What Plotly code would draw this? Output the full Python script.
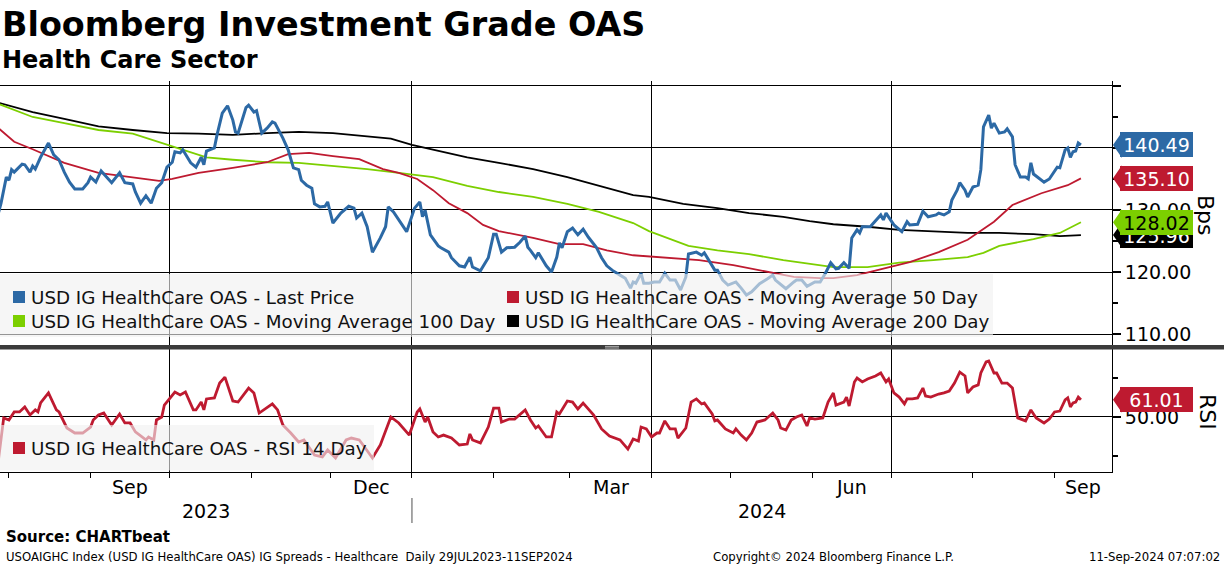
import plotly.graph_objects as go
import pandas as pd

FONT = "DejaVu Sans"

# ---------------- data ----------------
lp_dates = ["2023-07-28","2023-07-29","2023-07-31","2023-08-01","2023-08-02","2023-08-03","2023-08-06","2023-08-07","2023-08-09","2023-08-10",
"2023-08-11","2023-08-13","2023-08-16","2023-08-18","2023-08-20","2023-08-22","2023-08-24","2023-08-26","2023-08-29","2023-08-31",
"2023-09-01","2023-09-03","2023-09-05","2023-09-09","2023-09-12","2023-09-14","2023-09-17","2023-09-18","2023-09-20","2023-09-22",
"2023-09-24","2023-09-26","2023-09-28","2023-09-30","2023-10-02","2023-10-03","2023-10-05","2023-10-06","2023-10-09","2023-10-11",
"2023-10-13","2023-10-14","2023-10-15","2023-10-18","2023-10-19","2023-10-21","2023-10-23","2023-10-25","2023-10-26","2023-10-27",
"2023-10-30","2023-10-31","2023-11-02","2023-11-03","2023-11-05","2023-11-07","2023-11-09","2023-11-10","2023-11-13","2023-11-15",
"2023-11-17","2023-11-19","2023-11-20","2023-11-22","2023-11-24","2023-11-25","2023-11-27","2023-11-29","2023-11-30","2023-12-02",
"2023-12-05","2023-12-08","2023-12-10","2023-12-11","2023-12-13","2023-12-15","2023-12-17","2023-12-20","2023-12-22","2023-12-23",
"2023-12-25","2023-12-30","2024-01-02","2024-01-04","2024-01-05","2024-01-06","2024-01-08","2024-01-11","2024-01-12","2024-01-15",
"2024-01-16","2024-01-19","2024-01-21","2024-01-23","2024-01-24","2024-01-27","2024-01-30","2024-02-01","2024-02-02","2024-02-04",
"2024-02-06","2024-02-08","2024-02-09","2024-02-11","2024-02-13","2024-02-14","2024-02-15","2024-02-17","2024-02-18","2024-02-21",
"2024-02-23","2024-02-25","2024-02-26","2024-02-27","2024-02-29","2024-03-02","2024-03-04","2024-03-06","2024-03-08","2024-03-11",
"2024-03-13","2024-03-15","2024-03-17","2024-03-20","2024-03-22","2024-03-24","2024-03-25","2024-03-26","2024-03-28","2024-03-29",
"2024-03-31","2024-04-02","2024-04-04","2024-04-06","2024-04-08","2024-04-10","2024-04-12","2024-04-14","2024-04-15","2024-04-18",
"2024-04-20","2024-04-21","2024-04-23","2024-04-25","2024-04-26","2024-04-28","2024-04-30","2024-05-03","2024-05-05","2024-05-07",
"2024-05-09","2024-05-12","2024-05-15","2024-05-17","2024-05-18","2024-05-22","2024-05-25","2024-05-26","2024-05-28","2024-05-30",
"2024-06-02","2024-06-04","2024-06-06","2024-06-08","2024-06-10","2024-06-11","2024-06-13","2024-06-15","2024-06-16","2024-06-18",
"2024-06-19","2024-06-20","2024-06-23","2024-06-27","2024-06-28","2024-06-29","2024-07-02","2024-07-05","2024-07-07","2024-07-08",
"2024-07-11","2024-07-13","2024-07-15","2024-07-18","2024-07-19","2024-07-21","2024-07-23","2024-07-24","2024-07-26","2024-07-27",
"2024-07-29","2024-07-30","2024-08-01","2024-08-03","2024-08-04","2024-08-05","2024-08-07","2024-08-08","2024-08-09","2024-08-11",
"2024-08-13","2024-08-14","2024-08-16","2024-08-17","2024-08-19","2024-08-21","2024-08-22","2024-08-23","2024-08-24","2024-08-26",
"2024-08-28","2024-08-30","2024-09-02","2024-09-03","2024-09-05","2024-09-06","2024-09-07","2024-09-08","2024-09-09","2024-09-10",
"2024-09-11"]
lp_vals = [129.5,131.1,135.3,134.8,136.5,136.1,137.4,137.3,136.1,137.1,
136.6,138.5,140.8,138.9,138.1,136.1,134.5,133.4,133.4,134.4,
135.3,134.5,136.3,134.4,136.0,134.4,134.2,132.9,131.1,132.3,
131.1,133.5,134.4,136.9,137.7,139.4,139.2,139.7,137.6,136.9,
138.5,137.3,139.5,140.0,142.1,145.6,146.8,144.5,142.6,142.4,
146.5,146.9,145.8,146.0,142.4,143.2,144.2,144.0,141.6,139.7,
136.8,136.5,134.8,134.0,133.5,131.0,130.5,130.6,131.3,127.9,
129.5,130.6,130.3,128.7,129.5,127.3,123.2,125.5,127.3,130.5,
129.7,126.5,130.3,131.3,128.9,130.0,126.0,124.2,123.9,123.2,
122.3,121.0,120.8,122.4,120.8,120.2,122.3,126.1,126.1,123.2,
123.9,123.9,124.0,124.8,125.8,124.0,123.5,122.3,123.1,121.0,
120.0,122.4,124.7,123.9,126.5,127.1,126.0,126.9,125.6,124.0,
122.3,121.0,120.3,119.5,119.0,117.4,118.4,118.2,119.8,118.2,
118.2,118.4,118.4,119.8,118.7,118.7,117.1,119.2,122.9,123.2,
122.7,123.1,121.6,120.3,120.3,118.7,117.9,118.4,117.4,116.3,
116.8,118.1,118.9,119.5,118.7,117.3,118.4,118.7,118.7,117.7,
118.4,118.4,119.8,121.5,120.5,120.6,121.5,120.6,125.5,126.8,
126.3,127.3,127.3,129.2,128.4,129.5,127.6,126.5,128.1,127.6,
127.7,129.8,128.9,129.2,129.5,129.2,129.7,131.6,133.2,134.4,
133.2,132.1,133.7,134.0,136.5,143.4,145.3,143.2,144.0,142.4,
142.6,143.1,141.8,137.3,135.3,135.3,135.0,137.6,135.8,135.2,
134.5,135.0,136.9,136.8,139.7,140.0,138.5,139.4,139.5,140.8,
140.49]

ma50_dates = ["2023-07-28","2023-08-03","2023-08-10","2023-08-22","2023-09-04","2023-09-17","2023-09-27","2023-10-02","2023-10-12","2023-10-25",
"2023-11-07","2023-11-15","2023-11-23","2023-12-02","2023-12-12","2023-12-21","2023-12-27","2024-01-03","2024-01-09","2024-01-15",
"2024-01-22","2024-01-28","2024-02-03","2024-02-16","2024-02-26","2024-03-06","2024-03-15","2024-03-25","2024-04-07","2024-04-19",
"2024-05-02","2024-05-15","2024-05-25","2024-06-04","2024-06-09","2024-06-18","2024-06-28","2024-07-08","2024-07-19","2024-07-30",
"2024-08-09","2024-08-16","2024-08-27","2024-09-06","2024-09-11"]
ma50_vals = [143.2,141.0,139.8,137.6,136.0,135.3,134.7,135.0,136.0,136.8,
137.7,139.0,139.2,138.7,138.2,136.6,136.0,135.0,133.2,131.1,
129.5,127.6,126.6,125.5,124.5,124.5,123.5,122.7,122.3,121.9,
121.1,120.0,119.2,119.0,119.0,119.5,120.6,121.6,123.2,125.2,
128.1,130.8,132.7,134.0,135.10]

ma100_dates = ["2023-07-28","2023-08-10","2023-08-22","2023-09-04","2023-09-17","2023-09-30","2023-10-06","2023-10-15","2023-10-25","2023-11-07",
"2023-11-19","2023-12-02","2023-12-15","2023-12-27","2024-01-09","2024-01-22","2024-02-03","2024-02-16","2024-02-29","2024-03-12",
"2024-03-25","2024-03-31","2024-04-07","2024-04-15","2024-04-26","2024-05-08","2024-05-21","2024-06-03","2024-06-09","2024-06-22",
"2024-07-04","2024-07-17","2024-07-30","2024-08-05","2024-08-11","2024-08-24","2024-09-03","2024-09-11"]
ma100_vals = [147.1,145.0,144.0,142.9,142.3,140.5,139.7,138.5,138.1,137.7,
137.6,137.1,136.6,136.0,135.3,133.9,132.9,132.1,131.0,129.7,
127.9,126.6,125.5,124.2,123.5,122.9,121.9,121.1,120.8,120.8,
121.5,121.9,122.4,123.1,124.2,125.3,126.3,128.02]

ma200_dates = ["2023-07-28","2023-08-10","2023-08-22","2023-09-04","2023-09-17","2023-09-30","2023-10-12","2023-10-25","2023-11-07","2023-11-19",
"2023-12-02","2023-12-15","2023-12-24","2024-01-01","2024-01-09","2024-01-22","2024-02-03","2024-02-16","2024-02-29","2024-03-12",
"2024-03-25","2024-03-31","2024-04-13","2024-04-26","2024-05-08","2024-05-21","2024-05-31","2024-06-09","2024-06-22","2024-07-04",
"2024-07-17","2024-07-30","2024-08-11","2024-08-24","2024-09-03","2024-09-11"]
ma200_vals = [147.3,145.8,144.7,143.5,142.9,142.4,142.3,142.1,142.4,142.6,
142.4,141.9,141.5,140.5,139.7,138.5,137.6,136.6,135.3,133.9,
132.4,132.1,131.0,130.3,129.5,128.9,128.2,127.7,127.3,126.8,
126.5,126.3,126.3,126.1,125.8,125.96]

rsi_dates = ["2023-07-28","2023-07-30","2023-08-01","2023-08-03","2023-08-05","2023-08-07","2023-08-09","2023-08-11","2023-08-12","2023-08-13",
"2023-08-16","2023-08-19","2023-08-20","2023-08-23","2023-08-26","2023-08-29","2023-09-01","2023-09-02","2023-09-04","2023-09-06",
"2023-09-09","2023-09-12","2023-09-14","2023-09-16","2023-09-18","2023-09-22","2023-09-23","2023-09-25","2023-09-26","2023-09-28",
"2023-09-29","2023-10-01","2023-10-03","2023-10-05","2023-10-07","2023-10-10","2023-10-11","2023-10-13","2023-10-14","2023-10-15",
"2023-10-18","2023-10-20","2023-10-22","2023-10-25","2023-10-27","2023-10-31","2023-11-02","2023-11-04","2023-11-09","2023-11-11",
"2023-11-13","2023-11-16","2023-11-19","2023-11-21","2023-11-25","2023-11-28","2023-11-30","2023-12-03","2023-12-07","2023-12-09",
"2023-12-12","2023-12-14","2023-12-17","2023-12-20","2023-12-22","2023-12-24","2023-12-27","2023-12-31","2024-01-03","2024-01-04",
"2024-01-06","2024-01-07","2024-01-09","2024-01-11","2024-01-13","2024-01-16","2024-01-19","2024-01-22","2024-01-23","2024-01-24",
"2024-01-27","2024-01-30","2024-02-01","2024-02-03","2024-02-04","2024-02-07","2024-02-09","2024-02-13","2024-02-15","2024-02-17",
"2024-02-18","2024-02-21","2024-02-23","2024-02-25","2024-02-26","2024-02-29","2024-03-02","2024-03-04","2024-03-06","2024-03-10",
"2024-03-13","2024-03-16","2024-03-20","2024-03-23","2024-03-25","2024-03-27","2024-03-28","2024-03-30","2024-04-01","2024-04-03",
"2024-04-04","2024-04-06","2024-04-08","2024-04-10","2024-04-11","2024-04-14","2024-04-16","2024-04-18","2024-04-20","2024-04-21",
"2024-04-24","2024-04-25","2024-04-26","2024-04-29","2024-05-02","2024-05-03","2024-05-05","2024-05-07","2024-05-09","2024-05-11",
"2024-05-14","2024-05-17","2024-05-19","2024-05-20","2024-05-22","2024-05-24","2024-05-26","2024-05-28","2024-05-30","2024-05-31",
"2024-06-02","2024-06-05","2024-06-07","2024-06-09","2024-06-10","2024-06-13","2024-06-14","2024-06-15","2024-06-17","2024-06-18",
"2024-06-20","2024-06-22","2024-06-25","2024-06-27","2024-06-29","2024-06-30","2024-07-02","2024-07-04","2024-07-06","2024-07-07",
"2024-07-09","2024-07-11","2024-07-13","2024-07-14","2024-07-16","2024-07-19","2024-07-21","2024-07-23","2024-07-25","2024-07-27",
"2024-07-29","2024-07-30","2024-08-01","2024-08-03","2024-08-04","2024-08-06","2024-08-07","2024-08-09","2024-08-10","2024-08-12",
"2024-08-14","2024-08-16","2024-08-18","2024-08-20","2024-08-21","2024-08-23","2024-08-25","2024-08-28","2024-08-30","2024-09-01",
"2024-09-03","2024-09-05","2024-09-06","2024-09-07","2024-09-08","2024-09-09","2024-09-10","2024-09-11"]
rsi_vals = [22.6,49.4,48.1,53.2,53.2,56.4,51.3,54.5,53.2,58.9,
65.3,54.5,53.2,43.0,39.8,39.8,43.6,48.1,51.3,52.5,
44.9,51.9,46.2,46.2,40.5,35.4,37.3,35.4,48.1,50.0,
57.6,61.5,65.9,64.0,65.9,54.5,54.5,59.5,54.5,61.5,
62.1,71.6,75.4,60.2,59.5,68.4,65.3,52.5,58.3,54.5,
44.9,39.8,34.1,35.4,25.8,24.6,29.0,23.9,35.4,36.6,
35.4,30.9,23.9,32.2,40.5,50.0,46.2,38.5,53.2,55.1,
46.8,50.0,40.5,37.3,38.5,36.6,32.2,32.8,39.2,35.4,
33.5,43.6,55.7,55.7,46.8,48.7,48.7,54.5,48.1,43.0,
44.3,37.3,37.3,53.2,51.9,60.2,59.5,55.1,58.9,51.3,
42.4,37.9,35.4,29.6,36.0,34.7,43.6,42.4,37.3,39.8,
39.8,47.5,42.4,42.4,36.6,43.0,59.5,61.5,58.3,58.9,
51.9,47.5,48.1,42.4,39.8,42.4,38.5,35.4,39.8,46.8,
48.1,52.5,48.1,43.0,41.7,48.1,50.0,51.3,44.3,49.4,
48.7,49.4,59.5,65.3,57.6,59.5,62.7,57.0,72.3,74.8,
72.3,74.2,76.1,78.0,72.3,74.2,65.3,62.7,58.3,61.5,
61.5,62.1,68.4,63.4,62.7,64.6,65.3,66.5,71.6,78.6,
76.1,65.3,69.1,70.4,78.0,85.0,85.6,78.0,78.0,71.6,
71.6,68.4,49.4,48.1,47.5,54.5,49.4,46.2,48.7,53.2,
53.8,60.8,62.1,56.4,58.9,59.5,62.7,61.01]

series_names = ["USD IG HealthCare OAS - Last Price",
                "USD IG HealthCare OAS - Moving Average 50 Day",
                "USD IG HealthCare OAS - Moving Average 100 Day",
                "USD IG HealthCare OAS - Moving Average 200 Day",
                "USD IG HealthCare OAS - RSI 14 Day"]

oas_tickvals = [110, 120, 130, 140, 150]
oas_ticktext = ["110.00", "120.00", "130.00", "140.00", ""]
oas_minor = [115, 125, 135, 145]
rsi_tickvals = [50]
rsi_ticktext = ["50.00"]
rsi_minor = [25, 75]

month_label_months = ["2023-09", "2023-12", "2024-03", "2024-06", "2024-09"]
month_labels = ["Sep", "Dec", "Mar", "Jun", "Sep"]
year_labels = ["2023", "2024"]
quarter_starts = ["2023-10-01", "2024-01-01", "2024-04-01", "2024-07-01"]

x_start, x_end = "2023-07-28 14:24", "2024-09-22 19:12"

# ---------------- styling ----------------
BLUE = "#2c69a5"
RED = "#be1a30"
GREEN = "#7ccf00"
BLACK = "#000000"

W, H = 1224, 566
ML, MR, MT, MB = 0, 112, 81, 94
PW, PH = W - ML - MR, H - MT - MB


def py(pix):
    return (H - MB - pix) / PH


def px(pix):
    return (pix - ML) / PW


fig = go.Figure()
fig.add_trace(go.Scatter(x=ma200_dates, y=ma200_vals, mode="lines", line=dict(color=BLACK, width=1.8),
                         xaxis="x2", yaxis="y", name=series_names[3]))
fig.add_trace(go.Scatter(x=ma100_dates, y=ma100_vals, mode="lines", line=dict(color=GREEN, width=1.8),
                         xaxis="x2", yaxis="y", name=series_names[2]))
fig.add_trace(go.Scatter(x=ma50_dates, y=ma50_vals, mode="lines", line=dict(color=RED, width=1.8),
                         xaxis="x2", yaxis="y", name=series_names[1]))
fig.add_trace(go.Scatter(x=lp_dates, y=lp_vals, mode="lines", line=dict(color=BLUE, width=3),
                         xaxis="x2", yaxis="y", name=series_names[0]))
fig.add_trace(go.Scatter(x=rsi_dates, y=rsi_vals, mode="lines", line=dict(color=RED, width=2.8),
                         xaxis="x", yaxis="y2", name=series_names[4]))

tickfont = dict(family=FONT, size=19, color="black")
xcommon = dict(type="date", range=[x_start, x_end], domain=[0, 1], showgrid=True, gridcolor="black",
               gridwidth=1, tickmode="array", tickvals=quarter_starts, showticklabels=False,
               zeroline=False, automargin=False)

fig.update_layout(
    width=W, height=H, margin=dict(l=ML, r=MR, t=MT, b=MB),
    paper_bgcolor="white", plot_bgcolor="white", showlegend=False,
    xaxis=dict(**xcommon, anchor="y2", ticks="outside", ticklen=5, tickcolor="black",
               showline=True, linecolor="black", linewidth=1,
               minor=dict(dtick="M1", tick0="2023-08-01", ticks="outside", ticklen=5,
                          tickcolor="black", showgrid=False)),
    xaxis2=dict(**xcommon, anchor="y", matches="x", ticks="", showline=False),
    yaxis=dict(domain=[py(345), 1], range=[108.23, 150.8], side="right", anchor="x2",
               tickmode="array", tickvals=oas_tickvals, ticktext=oas_ticktext,
               ticks="outside", ticklen=8, tickwidth=1.5, tickcolor="black", tickfont=tickfont,
               showgrid=True, gridcolor="black", gridwidth=1, zeroline=False,
               showline=True, linecolor="black", linewidth=1, automargin=False,
               minor=dict(tickvals=oas_minor, ticks="outside", ticklen=5, tickcolor="black", showgrid=False)),
    yaxis2=dict(domain=[0, py(349)], range=[15.0, 93.26], side="right", anchor="x",
                tickmode="array", tickvals=rsi_tickvals, ticktext=rsi_ticktext,
                ticks="outside", ticklen=8, tickwidth=1.5, tickcolor="black", tickfont=tickfont,
                showgrid=True, gridcolor="black", gridwidth=1, zeroline=False,
                showline=True, linecolor="black", linewidth=1, automargin=False,
                minor=dict(tickvals=rsi_minor, ticks="outside", ticklen=5, tickcolor="black", showgrid=False)),
)

shapes = []
annotations = []

# legend boxes (semi-transparent, over the lines)
shapes.append(dict(type="rect", xref="paper", yref="paper", x0=0, x1=px(993), y0=py(337), y1=py(274),
                   fillcolor="rgba(240,240,240,0.62)", line=dict(width=0), layer="above"))
shapes.append(dict(type="rect", xref="paper", yref="paper", x0=0, x1=px(374), y0=py(470.5), y1=py(425),
                   fillcolor="rgba(240,240,240,0.62)", line=dict(width=0), layer="above"))

legend_items = [
    (series_names[0], BLUE, 13, 297),
    (series_names[2], GREEN, 13, 321),
    (series_names[1], RED, 507, 297),
    (series_names[3], BLACK, 507, 321),
    (series_names[4], RED, 13, 448),
]
for name, col, lx, ly in legend_items:
    shapes.append(dict(type="rect", xref="paper", yref="paper", x0=px(lx), x1=px(lx + 12),
                       y0=py(ly + 6), y1=py(ly - 6), fillcolor=col, line=dict(width=0), layer="above"))
    annotations.append(dict(text=name, xref="paper", yref="paper", x=px(lx + 16), y=py(ly),
                            xanchor="left", yanchor="middle", showarrow=False,
                            font=dict(family=FONT, size=18.3, color="#111111")))

# separator between the panels
shapes.append(dict(type="rect", xref="paper", yref="paper", x0=0, x1=W / PW, y0=py(349.5), y1=py(345),
                   fillcolor="#3b3b3b", line=dict(width=0), layer="above"))
for gy in (346.4, 348.0):
    shapes.append(dict(type="line", xref="paper", yref="paper", x0=px(605), x1=px(619), y0=py(gy), y1=py(gy),
                       line=dict(color="#c8c8c8", width=0.8), layer="above"))

# last-value boxes on the right axis
value_boxes = [
    ("y", lp_vals[-1], BLUE, "white"),
    ("y", ma50_vals[-1], RED, "white"),
    ("y", ma200_vals[-1], BLACK, "white"),
    ("y", ma100_vals[-1], GREEN, "black"),
    ("y2", rsi_vals[-1], RED, "white"),
]
for yref, val, col, tcol in value_boxes:
    shapes.append(dict(type="path", xref="paper", yref=yref, xsizemode="pixel", ysizemode="pixel",
                       xanchor=1, yanchor=val, path="M 1,0 L 10,13 L 10,-13 Z",
                       fillcolor=col, line=dict(width=0), layer="above"))
    annotations.append(dict(text=f"{val:.2f}", xref="paper", yref=yref, x=1, y=val, xshift=8,
                            xanchor="left", yanchor="middle", showarrow=False, bgcolor=col,
                            width=73, height=25, borderpad=0, borderwidth=0, align="center",
                            font=dict(family=FONT, size=19, color=tcol)))

# axis titles on the right
annotations.append(dict(text="Bps", xref="paper", yref="paper", x=px(1206), y=py(215), textangle=90,
                        showarrow=False, xanchor="center", yanchor="middle",
                        font=dict(family=FONT, size=22, color="black")))
annotations.append(dict(text="RSI", xref="paper", yref="paper", x=px(1208), y=py(412), textangle=90,
                        showarrow=False, xanchor="center", yanchor="middle",
                        font=dict(family=FONT, size=22, color="black")))

# month and year labels on the time axis
rs, re_ = pd.Timestamp(x_start), pd.Timestamp(x_end)
for m, lab in zip(month_label_months, month_labels):
    a = pd.Timestamp(m + "-01")
    b = min(a + pd.offsets.MonthBegin(1), re_)
    annotations.append(dict(text=lab, xref="x", yref="paper", x=a + (b - a) / 2, y=py(487),
                            showarrow=False, xanchor="center", yanchor="middle",
                            font=dict(family=FONT, size=19, color="black")))
for yl in year_labels:
    a = max(pd.Timestamp(yl + "-01-01"), rs)
    b = min(pd.Timestamp(str(int(yl) + 1) + "-01-01"), re_)
    annotations.append(dict(text=yl, xref="x", yref="paper", x=a + (b - a) / 2, y=py(511),
                            showarrow=False, xanchor="center", yanchor="middle",
                            font=dict(family=FONT, size=19, color="black")))
shapes.append(dict(type="line", xref="x", yref="paper", x0=year_labels[1] + "-01-01", x1=year_labels[1] + "-01-01",
                   y0=py(498), y1=py(523), line=dict(color="#8a8a8a", width=1.5)))

# titles and footer
annotations += [
    dict(text="<b>Bloomberg Investment Grade OAS</b>", xref="paper", yref="paper", x=0, y=py(24),
         xanchor="left", yanchor="middle", showarrow=False, font=dict(family=FONT, size=33.4, color="black")),
    dict(text="<b>Health Care Sector</b>", xref="paper", yref="paper", x=0, y=py(60),
         xanchor="left", yanchor="middle", showarrow=False, font=dict(family=FONT, size=24, color="black")),
    dict(text="<b>Source: CHARTbeat</b>", xref="paper", yref="paper", x=px(4), y=py(537),
         xanchor="left", yanchor="middle", showarrow=False, font=dict(family=FONT, size=15, color="black")),
    dict(text="USOAIGHC Index (USD IG HealthCare OAS) IG Spreads - Healthcare&nbsp;&nbsp;Daily 29JUL2023-11SEP2024",
         xref="paper", yref="paper", x=px(4), y=py(557), xanchor="left", yanchor="middle", showarrow=False,
         font=dict(family=FONT, size=11.7, color="black")),
    dict(text="Copyright© 2024 Bloomberg Finance L.P.", xref="paper", yref="paper", x=px(711), y=py(557),
         xanchor="left", yanchor="middle", showarrow=False, font=dict(family=FONT, size=11.7, color="black")),
    dict(text="11-Sep-2024 07:07:02", xref="paper", yref="paper", x=px(1222), y=py(557),
         xanchor="right", yanchor="middle", showarrow=False, font=dict(family=FONT, size=11.7, color="black")),
]

fig.update_layout(shapes=shapes, annotations=annotations)
fig.write_html("out.html", config={"displayModeBar": False},
               post_script="document.body.style.margin='0';document.body.style.overflow='hidden';")
